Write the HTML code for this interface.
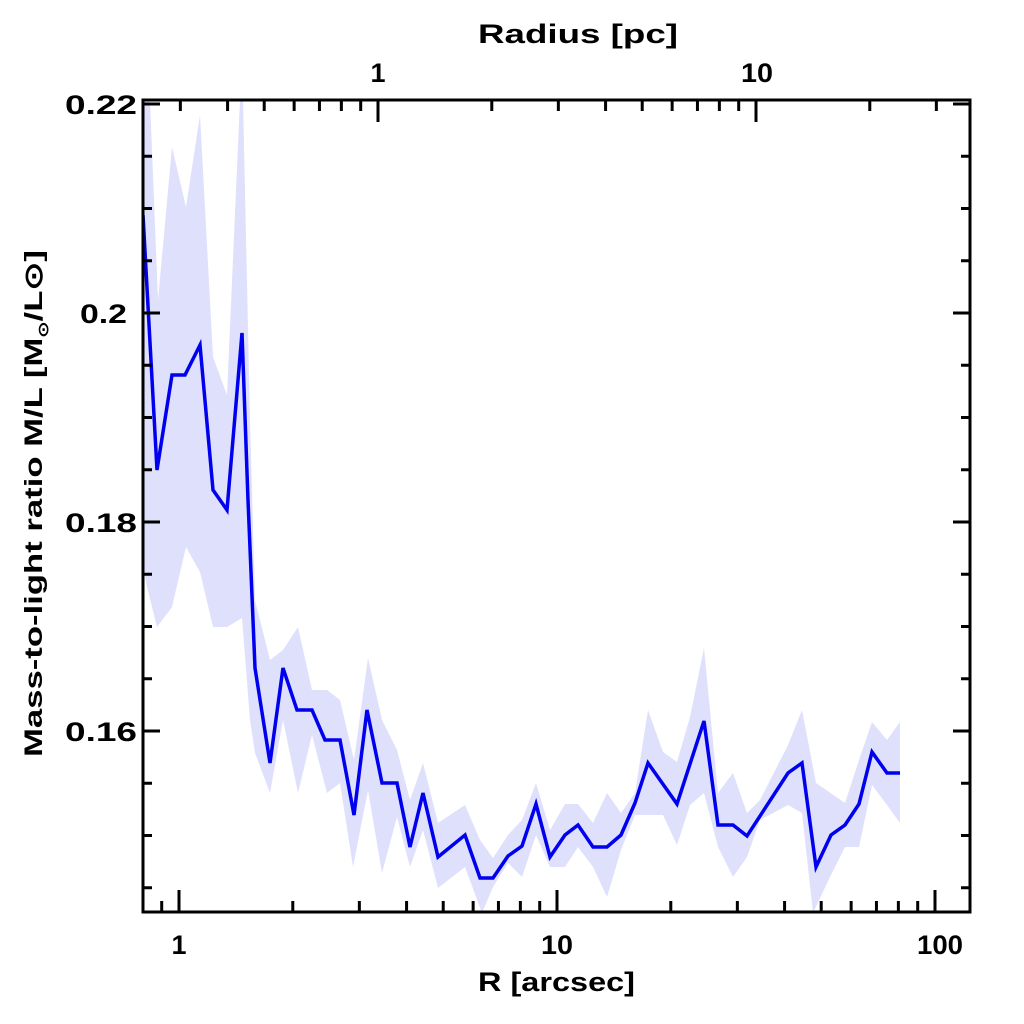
<!DOCTYPE html>
<html><head><meta charset="utf-8"><style>
html,body{margin:0;padding:0;background:#fff;width:1024px;height:1024px;overflow:hidden}
svg text{font-family:"Liberation Sans",sans-serif;font-weight:bold;fill:#000}
</style></head><body>
<svg id="s" width="1024" height="1024" viewBox="0 0 1024 1024" xmlns="http://www.w3.org/2000/svg">
<defs><clipPath id="c"><rect x="143" y="100" width="827" height="812"/></clipPath></defs>
<g clip-path="url(#c)">
<polygon fill="#dfe0fc" points="142,100 150,100 158,300 172,147 186,207 200,115 213,357 227,395 240,100 243,100 250,420 255,600 270,660 283,650 298,627 312,690 327,690 340,700 354,760 368,658 382,720 397,750 410,800 423,763 438,823 465,805 480,840 493,858 508,835 522,820 536,783 550,830 565,804 578,804 593,823 607,793 621,813 635,793 648,710 663,752 677,762 690,717 704,648 718,793 733,773 747,813 760,800 788,745 802,710 816,783 845,803 859,760 872,722 887,740 900,722 900,823 887,805 872,785 859,847 845,847 830,877 813,913 802,813 788,805 760,820 747,857 733,877 718,847 704,793 690,805 677,845 663,815 635,815 621,850 607,897 593,867 578,847 565,867 550,867 536,835 522,877 508,863 493,887 482,913 465,867 438,888 423,830 410,867 397,817 382,873 368,790 353,867 340,783 327,793 312,735 298,793 283,720 270,793 255,753 250,720 242,618 227,627 213,627 200,572 186,547 172,607 157,627 147,587 142,560"/>
<polyline fill="none" stroke="#0000ee" stroke-width="3.5" stroke-linejoin="miter" points="143,215 157,470 172,375 185,375 200,345 213,490 227,510 242,333 248,500 255,668 270,763 283,668 297,710 312,710 325,740 340,740 354,815 367,710 382,783 397,783 410,847 423,793 438,857 465,835 480,878 493,878 508,856 522,846 536,804 550,857 565,835 578,825 593,847 607,847 621,835 635,803 648,763 677,804 704,721 718,825 733,825 747,836 788,773 802,763 816,867 831,835 845,825 859,804 872,752 887,773 900,773"/>
</g>
<g id="ax" stroke="#000" stroke-width="3" fill="none"></g>
<rect x="143" y="100" width="827" height="812" fill="none" stroke="#000" stroke-width="3"/>
<g font-size="27">
<text x="179" y="954" text-anchor="middle">1</text>
<text x="557" y="954" text-anchor="middle" textLength="32" lengthAdjust="spacingAndGlyphs">10</text>
<text x="940" y="954" text-anchor="middle" textLength="46" lengthAdjust="spacingAndGlyphs">100</text>
<text x="478" y="991" textLength="157" lengthAdjust="spacingAndGlyphs">R [arcsec]</text>
<text x="378" y="82" text-anchor="middle">1</text>
<text x="757" y="82" text-anchor="middle" textLength="32" lengthAdjust="spacingAndGlyphs">10</text>
<text x="478" y="43" textLength="200" lengthAdjust="spacingAndGlyphs">Radius [pc]</text>
<text x="65" y="114" textLength="72" lengthAdjust="spacingAndGlyphs">0.22</text>
<text x="80" y="323" textLength="47" lengthAdjust="spacingAndGlyphs">0.2</text>
<text x="65" y="532" textLength="72" lengthAdjust="spacingAndGlyphs">0.18</text>
<text x="65" y="741" textLength="72" lengthAdjust="spacingAndGlyphs">0.16</text>
<text transform="translate(42,757) rotate(-90)" font-size="25" textLength="507" lengthAdjust="spacingAndGlyphs">Mass-to-light ratio M/L [M<tspan font-size="14" dy="6">⊙</tspan><tspan dy="-6">/L⊙]</tspan></text>
</g>
</svg>
<script>
var g=document.getElementById('ax'),d='';
function L(x1,y1,x2,y2){d+='M'+x1+' '+y1+'L'+x2+' '+y2;}
var D=378,X0=179,T=100,B=912,Lx=143,R=970;
for(var e=-1;e<=2;e++)for(var m=1;m<10;m++){var x=X0+D*(e+Math.log10(m));if(x<Lx+1||x>R-1)continue;var len=m==1?22:11;L(x,B,x,B-len);}
var P0=378;
for(var e=-1;e<=2;e++)for(var m=1;m<10;m++){var x=P0+D*(e+Math.log10(m));if(x<Lx+1||x>R-1)continue;var len=m==1?22:11;L(x,T,x,T+len);}
for(var i=0;i<=15;i++){var y=104+i*52.25;if(y>B-2)break;var len=(i%4==0)?17:9;L(Lx,y,Lx+len,y);L(R,y,R-len,y);}
var p=document.createElementNS('http://www.w3.org/2000/svg','path');p.setAttribute('d',d);g.appendChild(p);
</script>
</body></html>
